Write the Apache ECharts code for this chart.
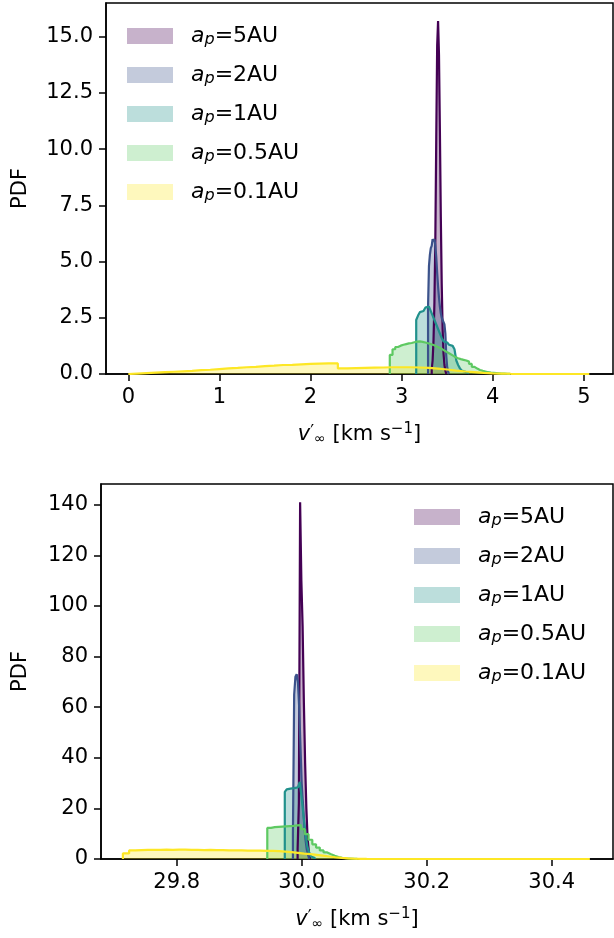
<!DOCTYPE html>
<html>
<head>
<meta charset="utf-8">
<script src="https://cdn.jsdelivr.net/npm/echarts@6/dist/echarts.min.js"></script>
<style>
html,body{margin:0;padding:0;background:#fff;}
#chart{width:614px;height:938px;}
</style>
</head>
<body>
<div id="chart"></div>
<script>
// ---------- DATA ----------
const labels = ['5AU', '2AU', '1AU', '0.5AU', '0.1AU'];
const colors = ['#440154', '#3b528b', '#21918c', '#5ec962', '#fde725'];

// Top panel histograms (bin start, bin width, PDF values)
const top5Start = 3.33, top5Width = 0.01;
const top5 = [0.2, 0.6, 1.5, 3.2, 6.0, 10.5, 14.6, 15.7, 14.2, 10.8, 7.0, 4.0, 2.0, 0.9, 0.4, 0.15];
const top2Start = 3.29, top2Width = 0.01;
const top2 = [3.0, 4.8, 5.3, 5.6, 5.7, 6.0, 5.9, 6.0, 5.7, 5.2, 4.5, 3.9, 3.4, 3.0, 2.7, 2.5, 2.4, 2.3, 2.2, 1.8, 0.8, 0.3, 0.1];
const top1Start = 3.16, top1Width = 0.02;
const top1 = [2.4, 2.6, 2.75, 2.8, 2.85, 2.95, 3.0, 2.95, 2.8, 2.6, 2.4, 2.2, 2.0, 1.8, 1.6, 1.45, 1.4, 1.35, 1.3, 1.25, 1.2, 1.1, 0.6, 0.4, 0.25, 0.15, 0.1, 0.05, 0.03];
const top05Start = 2.87, top05Width = 0.03;
const top05 = [0.85, 1.1, 1.2, 1.26, 1.3, 1.33, 1.36, 1.38, 1.41, 1.44, 1.45, 1.43, 1.4, 1.37, 1.33, 1.29, 1.24, 1.18, 1.12, 1.04, 0.97, 0.9, 0.83, 0.75, 0.7, 0.66, 0.63, 0.6, 0.55, 0.45, 0.32, 0.24, 0.18, 0.14, 0.11, 0.08, 0.06, 0.05, 0.04, 0.03, 0.02, 0.02, 0.01, 0.01];
const top01Start = 0.0, top01Width = 0.1;
const top01 = [0.02, 0.04, 0.06, 0.08, 0.10, 0.12, 0.14, 0.17, 0.19, 0.22, 0.25, 0.27, 0.30, 0.32, 0.35, 0.37, 0.40, 0.41, 0.43, 0.45, 0.46, 0.47, 0.47, 0.25, 0.26, 0.27, 0.28, 0.29, 0.30, 0.30, 0.30, 0.29, 0.27, 0.24, 0.20, 0.15, 0.11, 0.08, 0.05, 0.03, 0.02, 0.01];
const topDataMax = 5.06;

// Bottom panel histograms
const bot5Start = 29.9935, bot5Width = 0.002;
const bot5 = [4, 22, 141, 110, 92, 62, 38, 20, 8, 3];
const bot2Start = 29.986, bot2Width = 0.002;
const bot2 = [10, 65, 72, 73, 70, 60, 45, 30, 22, 14, 8, 4, 2];
const bot1Start = 29.973, bot1Width = 0.003;
const bot1 = [26.5, 27.5, 27.8, 27.5, 28.0, 27.8, 28.3, 29.0, 30.5, 24, 17, 10, 5, 2.5, 1, 0.4];
const bot05Start = 29.945, bot05Width = 0.006;
const bot05 = [12.3, 12.6, 12.7, 12.8, 12.9, 13.0, 13.1, 13.3, 13.4, 11.8, 9.8, 7.6, 5.8, 4.5, 3.4, 2.6, 1.9, 1.3, 0.8, 0.5, 0.3, 0.2, 0.1, 0.05];
const bot01Start = 29.714, bot01Width = 0.01;
const bot01 = [2.2, 3.4, 3.5, 3.6, 3.6, 3.6, 3.7, 3.6, 3.7, 3.7, 3.6, 3.6, 3.5, 3.6, 3.5, 3.5, 3.4, 3.4, 3.4, 3.3, 3.3, 3.3, 3.2, 3.2, 3.1, 2.9, 2.7, 2.4, 2.1, 1.9, 1.6, 1.3, 1.0, 0.7, 0.45, 0.25, 0.12, 0.05, 0.02];
const botDataMax = 30.461;

// Axes
const xTicksTop = [0, 1, 2, 3, 4, 5];
const yTicksTop = [0, 2.5, 5, 7.5, 10, 12.5, 15];
const xTicksBot = [29.8, 30.0, 30.2, 30.4];
const yTicksBot = [0, 20, 40, 60, 80, 100, 120, 140];
const xRangeTop = [-0.245, 5.32], yRangeTop = [0, 16.5];
const xRangeBot = [29.679, 30.498], yRangeBot = [0, 148.2];

// ---------- BUILD ----------
const FONT = 'DejaVu Sans';
function stepData(start, width, vals, tail) {
  const d = [[start, 0]];
  vals.forEach((v, i) => d.push([+(start + i * width).toFixed(6), v]));
  const end = +(start + vals.length * width).toFixed(6);
  d.push([end, 0]);
  if (tail && tail > end) d.push([tail, 0]);
  return d;
}
function rgba(hex, a) {
  const n = parseInt(hex.slice(1), 16);
  return 'rgba(' + (n >> 16 & 255) + ',' + (n >> 8 & 255) + ',' + (n & 255) + ',' + a + ')';
}
const topSets = [
  [top5Start, top5Width, top5], [top2Start, top2Width, top2], [top1Start, top1Width, top1],
  [top05Start, top05Width, top05], [top01Start, top01Width, top01]
];
const botSets = [
  [bot5Start, bot5Width, bot5], [bot2Start, bot2Width, bot2], [bot1Start, bot1Width, bot1],
  [bot05Start, bot05Width, bot05], [bot01Start, bot01Width, bot01]
];

const fills = [], lines = [];
[[topSets, 0, topDataMax], [botSets, 1, botDataMax]].forEach(([sets, gi, tail]) => {
  sets.forEach((s, i) => {
    const data = stepData(s[0], s[1], s[2], i === 4 ? tail : null);
    fills.push({
      type: 'line', name: labels[i], xAxisIndex: gi, yAxisIndex: gi, data: data, step: 'end',
      symbol: 'none', z: 2, silent: true,
      itemStyle: { color: rgba(colors[i], 0.3) },
      lineStyle: { width: 0, opacity: 0 },
      areaStyle: { color: rgba(colors[i], 0.3), opacity: 1 }
    });
    lines.push({
      type: 'line', name: labels[i] + '_edge', xAxisIndex: gi, yAxisIndex: gi, data: data, step: 'end',
      symbol: 'none', z: 3, silent: true,
      lineStyle: { color: colors[i], width: 2.2 }
    });
  });
});

const richX = {
  v: { fontFamily: FONT, fontSize: 21, fontStyle: 'italic', color: '#000' },
  p: { fontFamily: FONT, fontSize: 17, color: '#000', padding: [0, 0, 4, 0] },
  s: { fontFamily: FONT, fontSize: 14, color: '#000', padding: [10, 0, 0, 0] },
  t: { fontFamily: FONT, fontSize: 21, color: '#000' },
  e: { fontFamily: FONT, fontSize: 15, color: '#000', padding: [0, 0, 10, 0] }
};
const xName = '{v|v}{p|′}{s|∞}{t| [km s}{e|−1}{t|]}';

function xAxis(gi, range, ticks, dec) {
  return {
    gridIndex: gi, type: 'value', min: range[0], max: range[1],
    axisLine: { show: true, onZero: false, lineStyle: { color: '#000', width: 1.5 } },
    axisTick: { show: true, length: 7, customValues: ticks, lineStyle: { color: '#000', width: 1.5 } },
    axisLabel: { customValues: ticks, margin: 13, fontSize: 21, color: '#000', fontFamily: FONT,
      formatter: v => v.toFixed(dec) },
    splitLine: { show: false },
    name: xName, nameLocation: 'middle', nameGap: 48,
    nameTextStyle: { rich: richX }
  };
}
function yAxis(gi, range, ticks, dec, gap) {
  return {
    gridIndex: gi, type: 'value', min: range[0], max: range[1],
    axisLine: { show: true, onZero: false, lineStyle: { color: '#000', width: 1.5 } },
    axisTick: { show: true, length: 7, customValues: ticks, lineStyle: { color: '#000', width: 1.5 } },
    axisLabel: { customValues: ticks, margin: 13, fontSize: 21, color: '#000', fontFamily: FONT,
      formatter: v => v.toFixed(dec) },
    splitLine: { show: false },
    name: 'PDF', nameLocation: 'middle', nameGap: gap,
    nameTextStyle: { fontSize: 21, color: '#000', fontFamily: FONT }
  };
}
const richL = {
  a: { fontFamily: FONT, fontSize: 22, fontStyle: 'italic', color: '#000', padding: [0, 0, 0, 13] },
  p: { fontFamily: FONT, fontSize: 16, fontStyle: 'italic', color: '#000', padding: [8, 0, 0, 0] },
  t: { fontFamily: FONT, fontSize: 22, color: '#000' }
};
function legend(left, top) {
  return {
    orient: 'vertical', left: left, top: top, icon: 'rect', itemWidth: 46, itemHeight: 16, itemGap: 16,
    padding: 0, selectedMode: false,
    data: labels.map((l, i) => ({ name: l, icon: 'rect', itemStyle: { color: rgba(colors[i], 0.3) } })),
    formatter: name => '{a|a}{p|p}{t|=' + name + '}',
    textStyle: { rich: richL, fontFamily: FONT, fontSize: 22 }
  };
}

const option = {
  animation: false,
  backgroundColor: '#fff',
  grid: [
    { left: 106, top: 3, right: 1, height: 371, show: true, borderColor: '#000', borderWidth: 1.5, backgroundColor: 'transparent' },
    { left: 101, top: 484, right: 1, height: 375, show: true, borderColor: '#000', borderWidth: 1.5, backgroundColor: 'transparent' }
  ],
  xAxis: [xAxis(0, xRangeTop, xTicksTop, 0), xAxis(1, xRangeBot, xTicksBot, 1)],
  yAxis: [yAxis(0, yRangeTop, yTicksTop, 1, 75), yAxis(1, yRangeBot, yTicksBot, 0, 70)],
  legend: [legend(127, 25), legend(414, 506)],
  series: fills.concat(lines)
};
const chart = echarts.init(document.getElementById('chart'), null, { renderer: 'canvas' });
chart.setOption(option);
</script>
</body>
</html>
